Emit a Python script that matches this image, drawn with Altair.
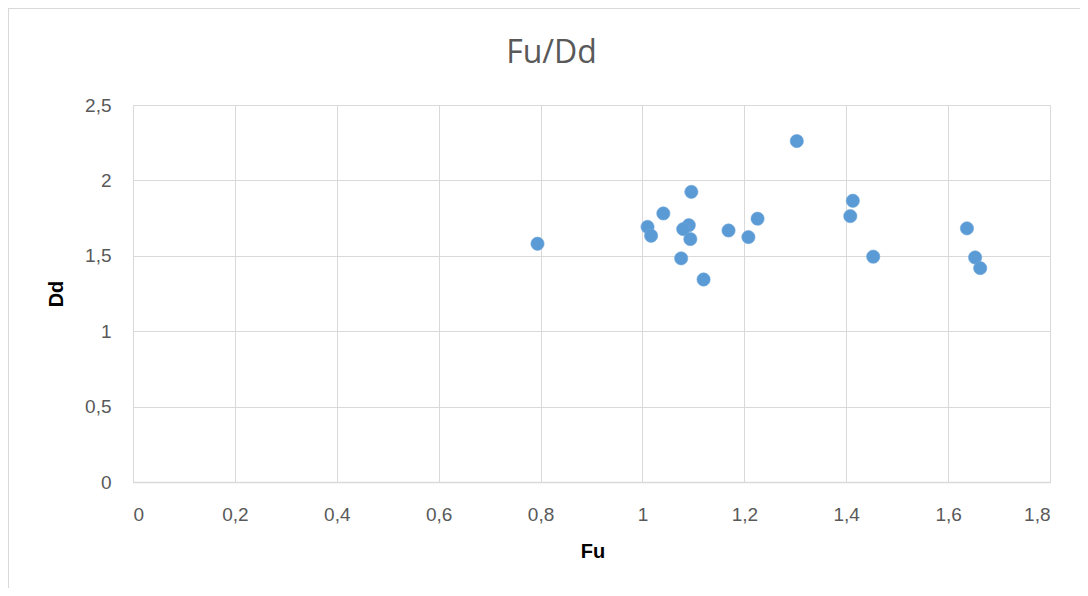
import altair as alt
import pandas as pd

fu = [0.794, 1.303, 1.096, 1.041, 1.010, 1.017, 1.091, 1.080, 1.094, 1.076,
      1.120, 1.169, 1.208, 1.226, 1.413, 1.408, 1.453, 1.637, 1.653, 1.663]
dd = [1.580, 2.261, 1.924, 1.781, 1.692, 1.633, 1.703, 1.677, 1.611, 1.483,
      1.343, 1.668, 1.624, 1.746, 1.865, 1.763, 1.494, 1.682, 1.489, 1.418]

x_ticks = [0, 0.2, 0.4, 0.6, 0.8, 1.0, 1.2, 1.4, 1.6, 1.8]
y_ticks = [0, 0.5, 1.0, 1.5, 2.0, 2.5]

df = pd.DataFrame({"Fu": fu, "Dd": dd})

W, H = 917, 377
label_expr = "replace(format(datum.value, '~g'), '.', ',')"
grey = "#D9D9D9"
txt = "#595959"

points = alt.Chart(df).mark_circle(
    size=177, opacity=1, color="#5B9BD5", stroke="#6FA6DA", strokeWidth=0.6
).encode(
    x=alt.X("Fu:Q", scale=alt.Scale(domain=[0, 1.8], nice=False, zero=True),
            axis=alt.Axis(values=x_ticks, labelExpr=label_expr, title="Fu",
                          grid=True, gridColor=grey, gridWidth=1,
                          domain=True, domainColor=grey, domainWidth=1.5,
                          ticks=False, tickSize=0, labelPadding=23,
                          labelFont="Liberation Sans", labelFontSize=19, labelColor=txt,
                          titleFont="Liberation Sans", titleFontSize=20, titleFontWeight="bold",
                          titleColor="#000000", titleX=W / 2 + 1, titleY=69,
                          titleBaseline="middle", titleAlign="center")),
    y=alt.Y("Dd:Q", scale=alt.Scale(domain=[0, 2.5], nice=False, zero=True),
            axis=alt.Axis(values=y_ticks, labelExpr=label_expr, title="Dd",
                          grid=True, gridColor=grey, gridWidth=1,
                          domain=False, ticks=False, tickSize=0, labelPadding=22,
                          labelFont="Liberation Sans", labelFontSize=19, labelColor=txt,
                          titleFont="Liberation Sans", titleFontSize=20, titleFontWeight="bold",
                          titleColor="#000000", titleX=-77, titleY=H / 2,
                          titleAngle=270, titleBaseline="middle", titleAlign="center")),
)

border = alt.Chart(pd.DataFrame({"k": [0]})).mark_rect(
    fill=None, stroke=grey, strokeWidth=2, clip=False
).encode(
    x=alt.value(-125), x2=alt.value(990), y=alt.value(-97), y2=alt.value(520)
)

chart = alt.layer(border, points).properties(
    width=W, height=H,
    title=alt.TitleParams("Fu/Dd", font="Open Sans", fontSize=32, fontWeight="normal",
                          color=txt, anchor="middle", frame="group",
                          baseline="alphabetic", offset=-88, dx=-40),
    autosize=alt.AutoSizeParams(type="none"),
    padding={"left": 125, "top": 97, "right": 30, "bottom": 106},
).configure_view(stroke=None).configure(background="white")

chart.save("out.html", embed_options={"renderer": "svg", "actions": False})
